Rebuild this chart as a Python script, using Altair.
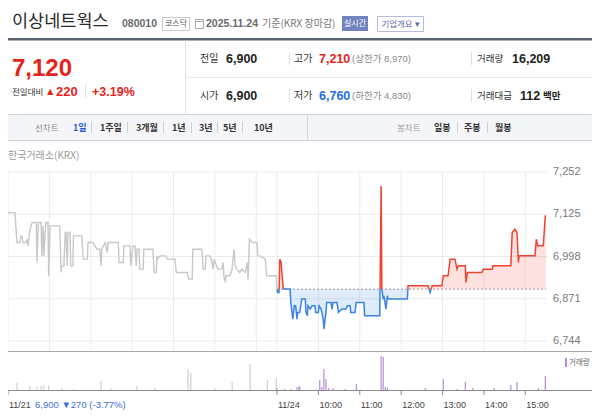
import altair as alt
import pandas as pd

# ---------------- data ----------------
BASE_PRICE = 6900  # 전일 종가 (11/24 기준)

D1_TIME = ["09:00","09:10","09:13","09:17","09:19","09:20","09:22","09:26","09:28","09:29",
           "09:32","09:35","09:41","09:42","09:44","09:48","09:49","09:51","09:52","09:54",
           "09:55","09:58","09:59","10:01","10:15","10:17","10:18","10:21","10:23","10:24",
           "10:26","10:27","10:30","10:31","10:34","10:35","10:47","10:49","10:55","10:56",
           "11:03","11:09","11:13","11:15","11:16","11:21","11:24","11:25","11:40","11:41",
           "11:47","11:48","11:57","11:58","12:01","12:04","12:06","12:07","12:10","12:11",
           "12:16","12:17","12:30","12:32","12:35","12:36","12:37","12:40","12:49","12:51",
           "13:02","13:04","13:20","13:22","13:27","13:28","13:41","13:43","13:46","13:47",
           "13:53","13:56","13:57","13:59","14:04","14:10","14:12","14:13","14:15","14:16",
           "14:22","14:25","14:26","14:28","14:29","14:32","14:36","14:39","14:44","14:47",
           "14:48","14:49","14:50","14:54","15:01","15:02","15:05","15:13","15:15","15:29","15:30"]
D1_PRICE = [7130,7130,7040,7040,7060,7060,7040,7040,7050,7030,
            7080,7100,7100,6980,7100,7100,7000,7090,7000,7070,
            7100,7100,6940,7090,7090,6950,6970,6970,7070,7070,
            6970,7070,7070,6970,6970,7060,7060,6990,6990,7040,
            7040,7020,7020,6970,7020,7040,7010,7040,7040,6980,
            6980,7030,7030,6970,7030,7030,6970,7020,7020,6960,
            6960,7020,7020,6950,6950,7000,6990,7000,7000,6990,
            6990,6950,6950,6930,6930,7020,7020,6960,6960,7000,
            7000,6980,6960,6990,6960,6960,6980,6940,6920,6940,
            6940,6960,6990,7020,6970,6960,6950,6960,6950,6980,
            6930,6980,7050,7040,7040,7000,7000,6990,6940,6940,6900]

D2_TIME = ["09:00","09:01","09:03","09:04","09:06","09:09","09:19","09:20","09:23","09:25",
           "09:27","09:29","09:30","09:33","09:36","09:41","09:42","09:44","09:45","09:48",
           "09:51","09:55","09:56","10:00","10:01","10:04","10:07","10:08","10:11","10:12",
           "10:18","10:20","10:21","10:27","10:29","10:34","10:40","10:42","10:46","10:47",
           "10:53","10:55","11:06","11:07","11:29","11:31","11:32","11:34","11:35","11:38",
           "11:40","11:41","12:09","12:10","12:39","12:42","12:45","12:59","13:01","13:08",
           "13:11","13:18","13:21","13:23","13:33","13:34","13:36","13:57","13:59","14:12",
           "14:13","14:39","14:41","14:45","14:48","14:50","14:51","15:14","15:16","15:18",
           "15:26","15:29","15:30"]
D2_PRICE = [6900,6890,6890,6990,6980,6900,6900,6860,6810,6850,
            6850,6810,6830,6830,6870,6870,6830,6820,6850,6840,
            6850,6850,6830,6830,6850,6840,6810,6780,6830,6860,
            6860,6840,6860,6860,6830,6840,6840,6850,6850,6830,
            6830,6860,6860,6820,6820,7210,6900,6870,6880,6840,
            6880,6870,6870,6910,6910,6890,6910,6910,6940,6940,
            6990,6990,6960,6970,6970,6920,6950,6950,6960,6960,
            6970,6970,7070,7080,7070,6980,7000,7000,7050,7030,
            7030,7120,7120]

V1_TIME = ["09:13","09:32","09:42","09:48","09:52","09:59","10:18","10:36","11:15","11:29",
           "12:07","12:33","13:21","13:25","14:00","14:25","14:51","15:16","15:29"]
V1_VOL = [560,320,240,320,400,400,160,80,720,160,
          320,160,1600,1360,160,640,2080,800,960]
V2_TIME = ["09:00","09:11","09:20","09:29","09:32","09:33","10:02","10:05","10:08","10:11",
           "10:15","10:21","10:39","10:55","11:31","11:34","11:37","11:40","12:35","13:01",
           "13:21","13:33","13:44","14:15","14:39","14:48","15:19","15:29"]
V2_VOL = [160,80,80,240,320,240,800,240,1680,880,
          160,160,80,480,2720,2640,240,160,160,880,
          80,640,160,160,400,640,160,1120]

Y_TICKS = [6744, 6871, 6998, 7125, 7252]
GRID_HOURS = ["09:00","10:00","11:00","12:00","13:00","14:00","15:00"]
X_LABELS_D1 = ["11/21"]
X_LABELS_D2 = ["11/24","10:00","11:00","12:00","13:00","14:00","15:00"]
X_LABEL_TIMES_D2 = ["09:00","10:00","11:00","12:00","13:00","14:00","15:00"]

# ---------------- helpers ----------------
KR = "Noto Sans CJK KR"
NUM = "Liberation Sans, Noto Sans CJK KR"
RED = "#e5231b"
BLUE = "#1f6fe5"
RED_LINE = "#f2412f"
BLUE_LINE = "#3a84e8"


def tmin(t, day):
    h, m = map(int, t.split(":"))
    return day * 390 + (h - 9) * 60 + m


XS = alt.Scale(domain=[0, 780], range=[8, 546])
PS = alt.Scale(domain=[6714, 7252], range=[351, 172])
VS = alt.Scale(domain=[0, 3040], range=[390, 352])

ONE = pd.DataFrame({"a": [0]})


def txt(s, x, y, size=11, color="#333", weight="normal", font=KR, align="left", baseline="middle"):
    return alt.Chart(ONE).mark_text(text=s, fontSize=size, color=color, fontWeight=weight,
                                    font=font, align=align, baseline=baseline).encode(
        x=alt.value(x), y=alt.value(y))


def box(x1, y1, x2, y2, fill="#ffffff", stroke=None, sw=1.0, opacity=1.0):
    kw = dict(fill=fill, fillOpacity=opacity)
    if stroke:
        kw.update(stroke=stroke, strokeWidth=sw)
    return alt.Chart(ONE).mark_rect(**kw).encode(
        x=alt.value(x1), x2=alt.value(x2), y=alt.value(y1), y2=alt.value(y2))


def hline(x1, x2, y, color, w=1.0):
    return alt.Chart(ONE).mark_rule(color=color, strokeWidth=w).encode(
        x=alt.value(x1), x2=alt.value(x2), y=alt.value(y))


def vline(x, y1, y2, color, w=1.0):
    return alt.Chart(ONE).mark_rule(color=color, strokeWidth=w).encode(
        x=alt.value(x), y=alt.value(y1), y2=alt.value(y2))


# ---------------- data frames ----------------
d1 = pd.DataFrame({"m": [tmin(t, 0) for t in D1_TIME], "p": D1_PRICE})
d1["k"] = range(len(d1))

pts = [(tmin(t, 1), p) for t, p in zip(D2_TIME, D2_PRICE)]
aug = [pts[0]]
for (m0, p0), (m1, p1) in zip(pts, pts[1:]):
    if (p0 - BASE_PRICE) * (p1 - BASE_PRICE) < 0:
        aug.append((m0 + (BASE_PRICE - p0) * (m1 - m0) / (p1 - p0), BASE_PRICE))
    aug.append((m1, p1))

rows = []
run = 0
prev = None
for (m0, p0), (m1, p1) in zip(aug, aug[1:]):
    c = "up" if (p0 > BASE_PRICE or p1 > BASE_PRICE) else "down"
    if c != prev:
        run += 1
        rows.append(dict(m=m0, p=p0, run=run, c=c, k=len(rows)))
    rows.append(dict(m=m1, p=p1, run=run, c=c, k=len(rows)))
    prev = c
runs = pd.DataFrame(rows)

area = pd.DataFrame({"m": [a[0] for a in aug], "p": [a[1] for a in aug]})
area["hi"] = area["p"].clip(lower=BASE_PRICE)
area["lo"] = area["p"].clip(upper=BASE_PRICE)
area["b"] = BASE_PRICE

vol1 = pd.DataFrame({"m": [tmin(t, 0) for t in V1_TIME], "v": V1_VOL})
vol2 = pd.DataFrame({"m": [tmin(t, 1) for t in V2_TIME], "v": V2_VOL})

grid = pd.DataFrame({"m": [tmin(t, 0) for t in GRID_HOURS] + [tmin(t, 1) for t in GRID_HOURS]})
yt = pd.DataFrame({"p": Y_TICKS, "lab": [f"{v:,}" for v in Y_TICKS]})
xl = pd.DataFrame({"m": [0] + [tmin(t, 1) for t in X_LABEL_TIMES_D2],
                   "lab": X_LABELS_D1 + X_LABELS_D2})
base_df = pd.DataFrame({"m": [390, 780], "p": [BASE_PRICE, BASE_PRICE]})

X = alt.X("m:Q", scale=XS, axis=None)


def YP(f):
    return alt.Y(f, scale=PS, axis=None, stack=None)


layers = []

# ---------------- header ----------------
layers += [
    txt("이상네트웍스", 12, 22, size=17.5, color="#2a2a2a"),
    txt("080010", 122, 24, size=10.5, color="#6a6a6a", weight="bold", font=NUM),
    box(162.5, 17.5, 189.5, 30.5, stroke="#c9c9c9"),
    txt("코스닥", 176, 24, size=8, color="#555", align="center"),
    box(195.5, 19.5, 203.5, 28.5, stroke="#aaaaaa"),
    hline(195.5, 203.5, 21.5, "#aaaaaa"),
    txt("2025.11.24", 206, 23.5, size=10.5, color="#6a6a6a", weight="bold", font=NUM),
    txt("기준(KRX 장마감)", 262, 23.5, size=10, color="#777"),
    box(342, 16, 368, 31, fill="#7184bf"),
    txt("실시간", 355, 23.8, size=8, color="#ffffff", align="center"),
    box(377.5, 16.5, 423.5, 31.5, stroke="#b3bcdb"),
    txt("기업개요 ▾", 400.5, 24, size=8.5, color="#5a6ca8", align="center"),
    box(0, 38, 600, 40.5, fill="#5b616e"),
]

# ---------------- price summary ----------------
layers += [
    vline(185.5, 40.5, 114, "#e0e0e0"),
    hline(185.5, 600, 77.5, "#e9e9e9"),
    txt("7,120", 12, 69, size=24, color=RED, weight="bold", font=NUM),
    txt("전일대비", 12, 91.5, size=8.5, color="#333"),
    txt("▲", 45, 91.5, size=10.5, color=RED, font=NUM),
    txt("220", 56, 91.5, size=13, color=RED, weight="bold", font=NUM),
    vline(85.5, 85, 98, "#dddddd"),
    txt("+3.19%", 92, 91.5, size=12.5, color=RED, weight="bold", font=NUM),
    # row 1
    txt("전일", 200, 58.5, size=10, color="#333"),
    txt("6,900", 226, 58.5, size=12.5, color="#222", weight="bold", font=NUM),
    vline(289.5, 52, 65, "#dddddd"),
    txt("고가", 294, 58.5, size=10, color="#333"),
    txt("7,210", 319, 58.5, size=12.5, color=RED, weight="bold", font=NUM),
    txt("(상한가 8,970)", 352, 59, size=9.5, color="#888", font=NUM),
    vline(471.5, 52, 65, "#dddddd"),
    txt("거래량", 477, 58.5, size=9.5, color="#333"),
    txt("16,209", 512, 58.5, size=12.5, color="#222", weight="bold", font=NUM),
    # row 2
    txt("시가", 200, 95.5, size=10, color="#333"),
    txt("6,900", 226, 95.5, size=12.5, color="#222", weight="bold", font=NUM),
    vline(289.5, 89, 102, "#dddddd"),
    txt("저가", 294, 95.5, size=10, color="#333"),
    txt("6,760", 319, 95.5, size=12.5, color=BLUE, weight="bold", font=NUM),
    txt("(하한가 4,830)", 352, 96, size=9.5, color="#888", font=NUM),
    vline(471.5, 89, 102, "#dddddd"),
    txt("거래대금", 477, 95.5, size=9.5, color="#333"),
    txt("112", 520, 95.5, size=12.5, color="#222", weight="bold", font=NUM),
    txt("백만", 543, 96, size=9.5, color="#222", weight="bold"),
]

# ---------------- tab bar ----------------
layers += [
    box(0.5, 114.5, 600, 140.5, fill="#f4f5f8", stroke="#cfd3da"),
    vline(307.5, 115, 140, "#d3d6dc"),
    txt("선차트", 35, 127.5, size=8.5, color="#8a8a8a"),
    txt("1일", 73, 127.5, size=9, color="#2d5fd2", weight="bold"),
    txt("1주일", 100, 127.5, size=9, color="#333", weight="bold"),
    txt("3개월", 136, 127.5, size=9, color="#333", weight="bold"),
    txt("1년", 172, 127.5, size=9, color="#333", weight="bold"),
    txt("3년", 199, 127.5, size=9, color="#333", weight="bold"),
    txt("5년", 223, 127.5, size=9, color="#333", weight="bold"),
    txt("10년", 254, 127.5, size=9, color="#333", weight="bold"),
    txt("봉차트", 397, 127.5, size=8.5, color="#9a9a9a"),
    txt("일봉", 434, 127.5, size=9, color="#333", weight="bold"),
    txt("주봉", 464, 127.5, size=9, color="#333", weight="bold"),
    txt("월봉", 495, 127.5, size=9, color="#333", weight="bold"),
]
for sx in [91.5, 127.5, 163.5, 191.5, 217.5, 242.5, 457.5, 487.5]:
    layers.append(vline(sx, 122, 133, "#d0d0d0"))

layers.append(txt("한국거래소(KRX)", 8, 156, size=10, color="#9a9a9a"))

# ---------------- price panel ----------------
layers += [
    alt.Chart(grid).mark_rule(color="#ececec").encode(x=X, y=alt.value(172), y2=alt.value(351)),
    alt.Chart(yt).mark_rule(color="#ececec").encode(y=YP("p:Q"), x=alt.value(8), x2=alt.value(547)),
    alt.Chart(yt).mark_text(align="left", baseline="middle", fontSize=11, color="#7a7a7a", font=NUM).encode(
        y=YP("p:Q"), x=alt.value(553), text="lab:N"),
    alt.Chart(area).mark_area(fill="#f26b5b", fillOpacity=0.2, strokeWidth=0).encode(
        x=X, y=YP("hi:Q"), y2=alt.Y2("b:Q")),
    alt.Chart(area).mark_area(fill="#5b9be8", fillOpacity=0.2, strokeWidth=0).encode(
        x=X, y=YP("lo:Q"), y2=alt.Y2("b:Q")),
    alt.Chart(base_df).mark_line(color="#9a9a9a", strokeWidth=1, strokeDash=[2, 2]).encode(
        x=X, y=YP("p:Q")),
    alt.Chart(d1).mark_line(color="#c8c8c8", strokeWidth=1.4).encode(x=X, y=YP("p:Q"), order="k:Q"),
    alt.Chart(runs).mark_line(strokeWidth=1.5).encode(
        x=X, y=YP("p:Q"), detail="run:N", order="k:Q",
        color=alt.Color("c:N", scale=alt.Scale(domain=["up", "down"], range=[RED_LINE, BLUE_LINE]),
                        legend=None)),
]

# ---------------- volume panel ----------------
layers += [
    hline(8, 600, 351.5, "#a9a9a9"),
    alt.Chart(vol1).mark_rule(color="#cfcfcf", strokeWidth=1.2).encode(
        x=X, y=alt.Y("v:Q", scale=VS, axis=None), y2=alt.datum(0)),
    alt.Chart(vol2).mark_rule(color="#b78cd6", strokeWidth=1.2).encode(
        x=X, y=alt.Y("v:Q", scale=VS, axis=None), y2=alt.datum(0)),
    box(565, 358, 567, 367, fill="#b78cd6"),
    txt("거래량", 569, 363, size=7.5, color="#666"),
    hline(8, 600, 390.5, "#8a8a8a"),
    alt.Chart(xl).mark_rule(color="#8a8a8a").encode(x=X, y=alt.value(390), y2=alt.value(395)),
    alt.Chart(xl).mark_text(align="left", baseline="middle", dx=1, fontSize=9, color="#444", font=NUM).encode(
        x=X, y=alt.value(404.5), text="lab:N"),
    txt("6,900 ▼270 (-3.77%)", 35, 404.5, size=9.5, color="#3b6fd4", font=NUM),
]

chart = alt.layer(*layers).properties(
    width=592, height=412,
    padding={"left": -8, "top": -8, "right": 0, "bottom": 0},
    autosize=alt.AutoSizeParams(type="none"),
).resolve_scale(x="independent", y="independent", color="independent").configure_view(stroke=None)

chart.save("out.html", embed_options={"renderer": "svg", "actions": False})
